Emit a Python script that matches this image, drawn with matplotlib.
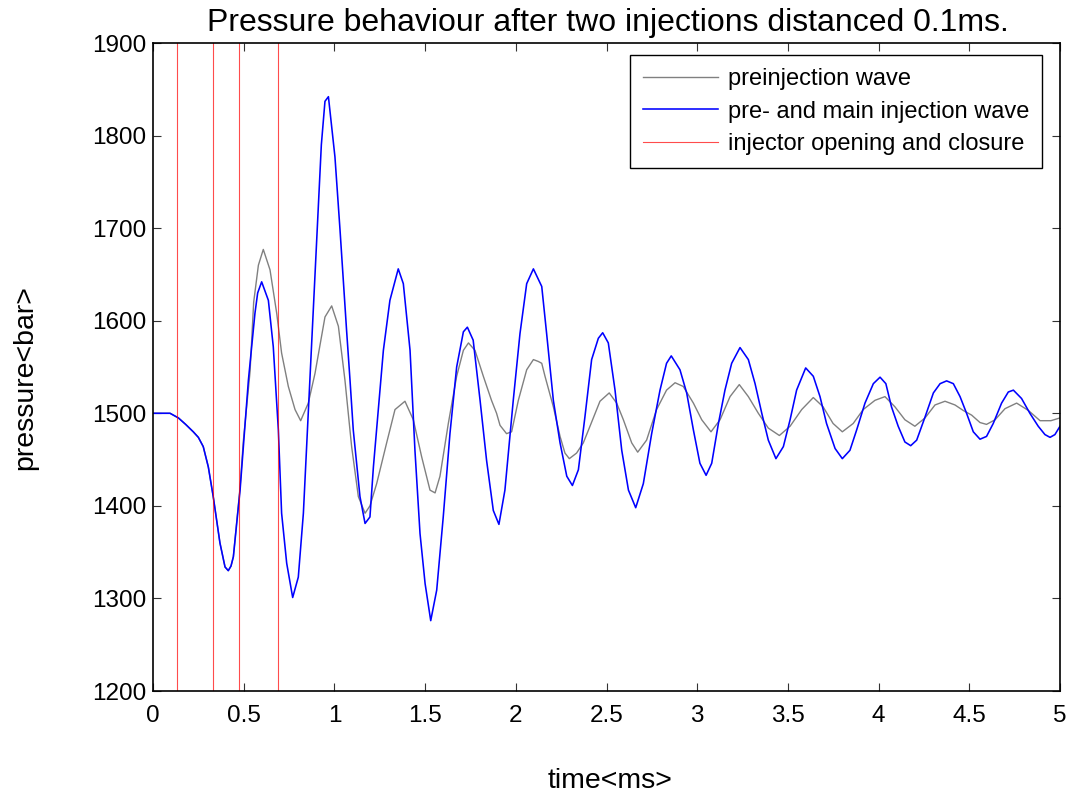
import matplotlib

matplotlib.use("Agg")
from matplotlib import pyplot as plt

plt.rcParams["font.family"] = ["Liberation Sans", "DejaVu Sans"]

# time in ms, pressure in bar
pre_t = [
    0.000, 0.094, 0.140, 0.180, 0.222, 0.250, 0.277, 0.305, 0.332, 0.369,
    0.397, 0.415, 0.430, 0.443, 0.461, 0.480, 0.498, 0.535, 0.555, 0.581,
    0.608, 0.645, 0.682, 0.709, 0.746, 0.783, 0.814, 0.856, 0.893, 0.948,
    0.985, 1.022, 1.058, 1.095, 1.132, 1.169, 1.196, 1.233, 1.288, 1.334,
    1.389, 1.435, 1.481, 1.527, 1.555, 1.582, 1.628, 1.674, 1.711, 1.739,
    1.775, 1.821, 1.866, 1.894, 1.913, 1.949, 1.977, 2.014, 2.060, 2.097,
    2.124, 2.143, 2.161, 2.207, 2.244, 2.271, 2.295, 2.335, 2.372, 2.409,
    2.464, 2.515, 2.556, 2.593, 2.639, 2.672, 2.721, 2.776, 2.831, 2.878,
    2.923, 2.979, 3.025, 3.076, 3.126, 3.181, 3.232, 3.282, 3.337, 3.392,
    3.453, 3.512, 3.576, 3.640, 3.694, 3.749, 3.800, 3.860, 3.915, 3.980,
    4.035, 4.090, 4.145, 4.200, 4.256, 4.311, 4.366, 4.421, 4.467, 4.513,
    4.559, 4.595, 4.642, 4.697, 4.761, 4.826, 4.890, 4.950, 5.000,
]
pre_p = [
    1500, 1500, 1495, 1488, 1480, 1474, 1464, 1442, 1410, 1360,
    1334, 1330, 1335, 1345, 1382, 1420, 1470, 1545, 1620, 1660,
    1677, 1655, 1608, 1565, 1529, 1504, 1492, 1511, 1543, 1604,
    1616, 1594, 1536, 1464, 1410, 1392, 1400, 1424, 1468, 1504,
    1513, 1493, 1453, 1417, 1414, 1432, 1489, 1540, 1568, 1576,
    1568, 1540, 1514, 1500, 1487, 1478, 1480, 1514, 1547, 1558,
    1556, 1554, 1540, 1507, 1475, 1457, 1451, 1457, 1468, 1486,
    1513, 1522, 1511, 1493, 1468, 1458, 1471, 1504, 1525, 1533,
    1529, 1511, 1493, 1480, 1493, 1518, 1531, 1518, 1500, 1484,
    1476, 1486, 1504, 1517, 1507, 1489, 1480, 1489, 1504, 1514,
    1518, 1507, 1493, 1486, 1495, 1509, 1513, 1509, 1503, 1498,
    1490, 1488, 1493, 1505, 1511, 1503, 1492, 1492, 1495,
]

main_t = [
    0.000, 0.094, 0.140, 0.180, 0.222, 0.250, 0.277, 0.305, 0.332, 0.369,
    0.397, 0.415, 0.430, 0.443, 0.461, 0.480, 0.498, 0.526, 0.535, 0.562,
    0.577, 0.599, 0.636, 0.663, 0.691, 0.709, 0.737, 0.770, 0.801, 0.829,
    0.866, 0.906, 0.928, 0.948, 0.967, 0.985, 1.003, 1.031, 1.049, 1.067,
    1.086, 1.104, 1.141, 1.169, 1.196, 1.215, 1.270, 1.306, 1.352, 1.380,
    1.417, 1.444, 1.472, 1.500, 1.531, 1.564, 1.600, 1.637, 1.674, 1.711,
    1.733, 1.765, 1.803, 1.839, 1.876, 1.907, 1.940, 1.986, 2.023, 2.060,
    2.097, 2.143, 2.170, 2.207, 2.244, 2.281, 2.312, 2.345, 2.381, 2.418,
    2.455, 2.479, 2.510, 2.547, 2.584, 2.621, 2.661, 2.703, 2.749, 2.795,
    2.831, 2.857, 2.905, 2.942, 2.979, 3.015, 3.049, 3.080, 3.117, 3.153,
    3.190, 3.236, 3.282, 3.319, 3.356, 3.392, 3.434, 3.475, 3.512, 3.548,
    3.598, 3.640, 3.677, 3.713, 3.760, 3.800, 3.842, 3.879, 3.925, 3.971,
    4.008, 4.040, 4.071, 4.108, 4.145, 4.177, 4.210, 4.256, 4.302, 4.339,
    4.375, 4.412, 4.449, 4.485, 4.522, 4.559, 4.595, 4.632, 4.678, 4.715,
    4.743, 4.788, 4.834, 4.880, 4.917, 4.945, 4.972, 5.000,
]
main_p = [
    1500, 1500, 1495, 1488, 1480, 1474, 1464, 1442, 1410, 1360,
    1334, 1330, 1335, 1345, 1380, 1417, 1464, 1536, 1554, 1608,
    1630, 1642, 1622, 1572, 1482, 1392, 1338, 1301, 1323, 1392,
    1540, 1698, 1790, 1837, 1842, 1810, 1777, 1698, 1644, 1590,
    1536, 1482, 1410, 1381, 1388, 1442, 1568, 1622, 1656, 1640,
    1568, 1460, 1370, 1316, 1276, 1309, 1388, 1478, 1550, 1588,
    1593, 1579, 1514, 1449, 1395, 1380, 1417, 1514, 1586, 1640,
    1656, 1637, 1586, 1514, 1468, 1432, 1422, 1439, 1496, 1558,
    1581, 1587, 1576, 1525, 1460, 1417, 1398, 1424, 1478, 1525,
    1554, 1562, 1547, 1522, 1482, 1446, 1433, 1446, 1489, 1525,
    1554, 1571, 1558, 1532, 1500, 1471, 1451, 1464, 1493, 1525,
    1549, 1540, 1518, 1489, 1462, 1451, 1460, 1482, 1511, 1532,
    1539, 1532, 1507, 1486, 1469, 1465, 1471, 1496, 1522, 1532,
    1535, 1532, 1518, 1500, 1480, 1472, 1475, 1489, 1511, 1523,
    1525, 1516, 1500, 1486, 1477, 1474, 1477, 1486,
]

# injector opening / closure instants (ms)
valve_t = [0.134, 0.333, 0.475, 0.687]

x_ticks = [0, 0.5, 1, 1.5, 2, 2.5, 3, 3.5, 4, 4.5, 5]
x_tick_labels = ["0", "0.5", "1", "1.5", "2", "2.5", "3", "3.5", "4", "4.5", "5"]
y_ticks = [1200, 1300, 1400, 1500, 1600, 1700, 1800, 1900]

W, H = 1073, 798
fig = plt.figure(figsize=(W / 100, H / 100), dpi=100)
fig.patch.set_facecolor("white")
ax = fig.add_axes([153 / W, 1 - 691 / H, (1060 - 153) / W, (691 - 43) / H])

ax.plot(pre_t, pre_p, color="#808080", linewidth=1.0, label="preinjection wave")
ax.plot(main_t, main_p, color="#0000ff", linewidth=1.15, label="pre- and main injection wave")
for i, t in enumerate(valve_t):
    ax.axvline(
        t,
        color="#ff0000",
        linewidth=0.8,
        alpha=0.7,
        label="injector opening and closure" if i == 0 else None,
    )

ax.set_xlim(0, 5)
ax.set_ylim(1200, 1900)
ax.set_xticks(x_ticks)
ax.set_xticklabels(x_tick_labels)
ax.set_yticks(y_ticks)
ax.tick_params(
    axis="both",
    direction="in",
    length=6,
    width=0.8,
    color="#333333",
    labelsize=17.5,
    top=True,
    right=True,
)
ax.tick_params(axis="x", pad=10)
ax.tick_params(axis="y", pad=4.5)
for spine in ax.spines.values():
    spine.set_linewidth(1.2)
    spine.set_color("black")

fig.text(608 / W, 1 - 23 / H, "Pressure behaviour after two injections distanced 0.1ms.",
         ha="center", va="center", fontsize=23)
fig.text(610 / W, 1 - 781 / H, "time<ms>", ha="center", va="center", fontsize=20.5)
fig.text(25 / W, 1 - 378 / H, "pressure<bar>", ha="center", va="center",
         rotation=90, fontsize=20.5)

legend = ax.legend(
    loc="upper right",
    bbox_to_anchor=(1042 / W, 1 - 55 / H),
    bbox_transform=fig.transFigure,
    borderaxespad=0,
    fontsize=17,
    handlelength=3.2,
    handletextpad=0.4,
    labelspacing=0.45,
    borderpad=0.55,
    fancybox=False,
    framealpha=1,
    edgecolor="black",
)
legend.get_frame().set_linewidth(1.0)

fig.savefig("out.png", dpi=100)
plt.close(fig)
